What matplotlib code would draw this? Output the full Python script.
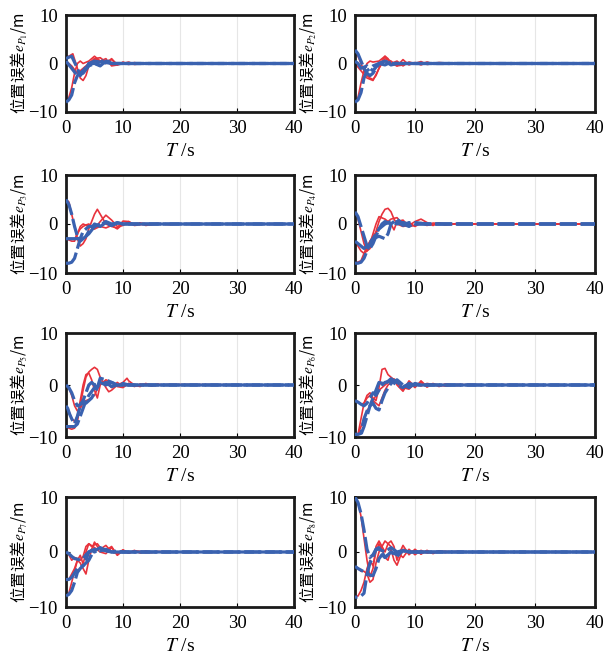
import matplotlib
matplotlib.use("Agg")
import matplotlib.pyplot as plt

plt.rcParams['font.family'] = ['Liberation Serif', 'Noto Sans CJK SC', 'DejaVu Sans']
plt.rcParams['mathtext.fontset'] = 'stix'

# ---------------- data: (t, y) key points ----------------
P1_BLUE = [
    ([0, 0.5, 1, 1.5, 2, 2.5, 3, 3.5, 4, 5, 6, 7, 8, 10, 40],
     [-8, -7.5, -6.5, -4, -2.5, -2, -1.5, -1, 0, 0, -0.3, 0.2, 0, 0, 0]),
    ([0, 0.5, 1, 2, 2.5, 3, 4, 5, 6, 7, 8, 40],
     [1, 1.3, 1.5, -1, -2.5, -1.5, 0, 0.5, 0.3, 0.8, 0, 0]),
    ([0, 1, 2, 3, 4, 5, 6, 7, 8, 40],
     [0.5, -1, -2.5, -2, -0.5, 0, -0.5, 0.5, 0, 0]),
]
P1_RED = [
    ([0, 0.5, 1, 1.5, 2, 2.5, 3, 4, 5, 6, 7, 8, 9, 10, 11, 12, 14, 16, 40],
     [-8, -7, -5, -2, 0, 0.5, 0, 0.5, 1.5, 0.5, 0, 1, -0.3, 0, 0.3, -0.2, 0.1, 0, 0]),
    ([0, 0.5, 1.2, 2, 2.5, 3, 3.5, 4, 5, 6, 7, 8, 9, 10, 11, 12, 13, 15, 40],
     [1, 1.5, 2, -1, -3, -3.5, -2.5, -0.5, 1, 0.5, 1, -0.5, -0.3, 0.3, -0.2, 0.2, -0.1, 0, 0]),
    ([0, 1, 2, 3, 4, 5, 6, 7, 8, 9, 10, 12, 14, 40],
     [0.5, -0.5, -2, -1, 0, 1, 1.2, 0.3, 0.8, -0.2, 0.2, -0.1, 0, 0]),
]

P2_BLUE = [
    ([0, 0.5, 1, 1.5, 2, 2.5, 3, 3.5, 4, 5, 6, 7, 8, 40],
     [2.8, 2, 0.5, -1, -2, -2.5, -2, -1, 0, -0.3, 0.3, 0, 0, 0]),
    ([0, 0.5, 1, 2, 3, 4, 5, 6, 7, 40],
     [0.5, 0, -1, -0.5, -1.5, 0, 0.5, -0.3, 0, 0]),
    ([0, 0.5, 1, 1.5, 2, 3, 4, 5, 6, 8, 40],
     [-8, -7.5, -6, -3, -1.5, -0.5, 0, 0.5, 0, 0, 0]),
]
P2_RED = [
    ([0, 0.5, 1, 1.5, 2, 2.5, 3, 4, 5, 6, 7, 8, 9, 10, 11, 12, 14, 16, 18, 40],
     [-8, -7, -4, -1.5, 0, 0.5, 0.3, 0.5, 1.5, 0, 0.5, -0.5, 0.3, 0, 0.4, -0.2, 0.2, 0, 0.1, 0]),
    ([0, 0.5, 1, 1.5, 2, 2.5, 3, 3.5, 4, 4.5, 5, 5.5, 6, 7, 8, 9, 10, 11, 12, 13, 15, 17, 40],
     [2.5, 1.5, 0, -1.5, -2.5, -3, -3.3, -2.5, -1, 0.5, 1.5, 1, 0, -0.5, 0.8, -0.3, 0.2, -0.3, 0.3, -0.1, 0.1, 0, 0]),
    ([0, 1, 2, 3, 4, 5, 6, 7, 8, 9, 10, 12, 14, 40],
     [0, -1.5, -3, -3.5, -1, 1, 0.5, -0.5, -0.3, 0.2, 0, 0.2, 0, 0]),
]

P3_BLUE = [
    ([0, 0.5, 1, 1.5, 2, 2.5, 3, 3.5, 4, 5, 6, 7, 8, 9, 10, 40],
     [5, 4, 2, -0.5, -2.5, -3.5, -3, -2.5, -1.5, 0, -0.5, 0.3, -0.3, 0.3, 0, 0]),
    ([0, 1, 2, 3, 3.5, 4, 5, 6, 7, 8, 9, 10, 40],
     [-3, -3, -3, -2.8, -2.5, -2, -0.5, 0, 0.3, -0.3, 0.2, 0, 0]),
    ([0, 0.5, 1, 1.5, 2, 2.5, 3, 4, 5, 6, 7, 8, 9, 10, 11, 40],
     [-8, -8, -7.8, -7, -5, -3, -1.5, -0.5, -0.5, 0, 0.5, 0, 0.2, 0, 0, 0]),
]
P3_RED = [
    ([0, 0.5, 1, 1.5, 2, 2.5, 3, 3.5, 4, 5, 5.5, 6, 7, 8, 9, 10, 11, 12, 13, 14, 16, 18, 20, 40],
     [5, 4.5, 2, -0.5, -3, -4.5, -4, -3, -1, 2, 3, 2, 0, -0.5, -0.8, 0.6, 0.5, -0.2, 0.2, -0.3, 0.1, -0.1, 0, 0]),
    ([0, 0.5, 1, 1.5, 2, 2.5, 3, 3.5, 4, 5, 6, 7, 8, 9, 10, 11, 12, 13, 15, 17, 40],
     [-3, -3, -3, -3.2, -2, -1, -0.5, -0.2, 0, -1, 0.5, 1.8, 0.8, -0.5, -0.3, 0.5, -0.2, 0.2, -0.1, 0, 0]),
    ([0, 1, 1.5, 2, 2.5, 3, 4, 5, 6, 7, 8, 9, 10, 11, 12, 14, 40],
     [-3, -3.5, -3.5, -2, -0.5, 0, -0.5, -1, -0.5, -0.8, -0.3, -1, 0, 0.3, -0.3, 0, 0]),
]

P4_BLUE = [
    ([0, 0.5, 1, 1.5, 2, 2.5, 3, 3.5, 4, 4.5, 5, 6, 7, 8, 9, 10, 40],
     [2.5, 1.5, -0.5, -2.5, -4.5, -5, -4, -2.5, -1, 0, 0.5, 0, 0.5, -0.3, 0.3, 0, 0]),
    ([0, 0.5, 1, 1.5, 2, 3, 4, 5, 5.5, 6, 7, 8, 9, 10, 12, 40],
     [-3.5, -4, -4.5, -5, -4.5, -3, -2.5, -3, -2, 0, 1, 0, -0.5, 0.3, 0, 0]),
    ([0, 0.5, 1, 1.5, 2, 2.5, 3, 3.5, 4, 5, 6, 7, 8, 9, 10, 40],
     [-8, -8, -7.8, -7, -5.5, -4, -3, -2, -1, 0, 0.5, 0, 0.3, 0, 0, 0]),
]
P4_RED = [
    ([0, 0.5, 1, 1.5, 2, 2.5, 3, 3.5, 4, 4.5, 5, 5.5, 6, 6.5, 7, 8, 9, 10, 11, 12, 13, 14, 15, 17, 19, 40],
     [2.5, 1, -1.5, -4, -5.5, -5, -3.5, -1.5, 0.5, 2, 3, 3.2, 2.5, 1, 0, -0.5, -0.3, 0.5, 1, 0.3, -0.3, 0.2, -0.2, 0.1, 0, 0]),
    ([0, 0.5, 1, 1.5, 2, 2.5, 3, 3.5, 4, 5, 6, 6.5, 7, 8, 9, 10, 11, 12, 14, 16, 40],
     [-3.5, -4.5, -5.5, -6, -5.5, -4, -2, 0, 1.5, 1, 0, -1.2, 0.5, 0.8, -0.5, -0.3, 0.3, -0.2, 0.1, 0, 0]),
    ([0, 1, 1.5, 2, 3, 4, 5, 6, 7, 8, 9, 10, 11, 12, 13, 15, 40],
     [-8, -7.5, -6, -4.5, -2.5, -1, 0, 1, 1.3, -0.3, 0.3, -0.5, 0.2, -0.3, 0.2, 0, 0]),
]

P5_BLUE = [
    ([0, 0.5, 1, 1.5, 2, 2.5, 3, 3.5, 4, 4.5, 5, 6, 7, 8, 9, 10, 40],
     [0, -0.5, -1.5, -3, -4, -3.8, -3, -1.5, 0, 0.5, 0, 0.5, 0, 0.5, 0, 0, 0]),
    ([0, 0.3, 0.6, 1, 1.5, 2, 2.5, 3, 3.5, 4, 4.5, 5, 5.5, 6, 7, 8, 9, 10, 40],
     [-4, -4.5, -5.5, -6.5, -7.5, -6, -4, -3.5, -3.5, -3, -2.5, -1.5, -0.5, 1.3, 1, 0.5, 0, 0, 0]),
    ([0, 0.5, 1, 1.5, 2, 2.5, 3, 3.5, 4, 5, 6, 7, 8, 9, 10, 11, 40],
     [-8, -8, -8, -8, -7.5, -6, -4.5, -3, -2, -0.5, 0, 0.5, -0.3, 0, 0.3, 0, 0]),
]
P5_RED = [
    ([0, 0.5, 1, 1.5, 2, 2.5, 3, 3.5, 4, 4.5, 5, 5.5, 6, 7, 7.5, 8, 9, 10, 10.7, 11, 12, 13, 14, 15, 16, 17, 18, 40],
     [-8, -8.3, -8.5, -8.3, -7, -4, -1, 1.5, 2.5, 3, 3.4, 3, 1.5, -0.5, -1.3, -1, 0, 0.5, 1.3, 0.8, 0, -0.3, 0.3, -0.2, 0.2, 0, 0.1, 0]),
    ([0, 0.5, 1, 1.5, 2, 2.5, 3, 3.5, 4, 4.5, 5, 5.5, 6, 7, 8, 9, 10, 11, 12, 13, 15, 17, 40],
     [-4, -5, -6.5, -7, -6, -3, 0, 2, 2.3, 1, -1, -2.5, 0, 1, 0.5, -0.3, -0.5, 0.3, -0.3, 0.2, -0.1, 0, 0]),
    ([0, 0.5, 1, 1.5, 2, 2.5, 3, 3.5, 4, 5, 6, 7, 8, 9, 10, 11, 12, 14, 16, 40],
     [0, -0.5, -2, -4, -5, -4.5, -3.5, -3, -2.8, -2, 0.5, 0.5, -0.5, 0.5, -0.3, 0.3, -0.2, 0.1, 0, 0]),
]

P6_BLUE = [
    ([0, 0.5, 1, 1.5, 2, 2.5, 3, 3.5, 4, 4.5, 5, 6, 7, 8, 9, 10, 40],
     [-3, -3.3, -3.7, -4, -3.5, -2.5, -1.5, -2, -1, 0, 0.5, 0.8, 0, -0.5, 0.3, 0, 0]),
    ([0, 0.5, 1, 1.5, 2, 2.5, 3, 3.5, 4, 4.5, 5, 6, 7, 8, 9, 10, 11, 40],
     [-9.5, -9.5, -9.3, -6.5, -5, -4, -3.5, -4.5, -4.8, -3, -1.5, 0.3, 1, 0, -0.5, 0.3, 0, 0]),
    ([0, 0.5, 1, 1.5, 2, 2.5, 3, 3.5, 4, 5, 6, 7, 8, 9, 10, 40],
     [-9.5, -9.5, -9.5, -8, -6, -4, -2.5, -1, 0.5, 0.2, 1.2, 0.5, -0.3, 0, 0, 0]),
]
P6_RED = [
    ([0, 0.5, 1, 1.5, 2, 2.5, 3, 3.5, 4, 4.5, 5, 5.5, 6, 7, 8, 9, 10, 11, 12, 13, 14, 15, 17, 19, 22, 25, 40],
     [-10, -9.5, -6.5, -3.5, -2, -1.5, -2.5, -3, -0.5, 3, 3.2, 2, 1.5, 0.5, -1, 0.5, -0.5, 0.8, -0.3, 0.3, -0.3, 0.2, -0.1, 0.1, 0, 0.05, 0]),
    ([0, 0.5, 1, 1.5, 2, 2.5, 3, 3.5, 4, 4.5, 5, 5.5, 6, 6.5, 7, 8, 9, 10, 11, 12, 13, 15, 17, 20, 40],
     [-9.5, -9.5, -8, -6.5, -5, -4, -3, -3.5, -4, -2.5, -1, 0, 0.5, 1.2, 0, -1.2, 0.8, -0.3, 0.5, -0.4, 0.2, -0.2, 0.1, 0, 0]),
    ([0, 0.5, 1, 1.5, 2, 2.5, 3, 3.5, 4, 5, 6, 7, 8, 9, 10, 11, 12, 14, 16, 40],
     [-3, -3.2, -3.7, -3.5, -2.5, -2, -3, -2, -1, 0, 1, 0.5, -0.5, -0.8, 0.3, -0.2, 0.3, -0.1, 0, 0]),
]

P7_BLUE = [
    ([0, 0.5, 1, 1.5, 2, 2.5, 3, 3.5, 4, 4.5, 5, 6, 7, 8, 9, 10, 40],
     [0, -0.3, -0.8, -1.2, -1.3, -1.5, -1.2, -0.5, 0, 0.3, 0, 0.5, 0.2, 0, 0.2, 0, 0]),
    ([0, 0.5, 1, 1.5, 2, 2.5, 3, 3.5, 4, 4.5, 5, 6, 7, 8, 9, 40],
     [-5, -5, -4.6, -3.8, -3, -2.7, -2.5, -2, -1.5, -0.5, 0.2, 0.8, 0.3, 0, 0, 0]),
    ([0, 0.5, 1, 1.5, 2, 2.5, 3, 3.5, 4, 5, 6, 7, 8, 40],
     [-8, -7.7, -7, -5.5, -3.7, -3, -2.5, -1.5, 0, 0.5, 0.2, 0.5, 0, 0]),
]
P7_RED = [
    ([0, 0.5, 1, 1.5, 2, 2.5, 3, 3.5, 4, 4.5, 5, 5.5, 6, 7, 8, 9, 10, 11, 12, 13, 14, 15, 16, 18, 40],
     [-8, -7.5, -5.5, -3.5, -1.5, -0.6, -2.2, 0, 1.5, 1, 1.3, 1.5, 0.8, 0.3, 1, -0.6, 0.3, -0.2, 0.3, -0.2, 0.2, -0.1, 0.1, 0, 0]),
    ([0, 0.5, 1, 1.5, 2, 2.5, 3, 3.5, 4, 4.5, 5, 5.5, 6, 7, 8, 9, 10, 11, 12, 14, 16, 40],
     [-5, -5, -4, -3, -1.5, -2, -3, -4, -1.5, 0.5, 1.8, 1, 0.5, 1.2, 0, -0.3, 0.4, -0.2, 0.2, -0.1, 0, 0]),
    ([0, 0.5, 1, 1.5, 2, 2.5, 3, 3.5, 4, 5, 6, 7, 8, 9, 10, 11, 12, 14, 40],
     [0, -0.5, -1.5, -1, -1.2, -1.5, -0.8, 1, 1.5, 0.8, 0, -0.3, 0.8, -0.5, 0.3, -0.2, 0.2, 0, 0]),
]

P8_BLUE = [
    ([0, 0.5, 1, 1.5, 2, 2.5, 3, 3.5, 4, 5, 6, 7, 8, 9, 10, 40],
     [10, 9, 7, 4, 0.5, -1, -0.5, 0.5, 0.8, -1, 0, -0.8, 0.3, 0, 0, 0]),
    ([0, 0.5, 1, 1.5, 2, 2.5, 3, 3.5, 4, 4.5, 5, 6, 7, 8, 9, 10, 40],
     [-2.6, -3, -3.3, -3.6, -3.8, -4.2, -4.3, -3, -1.2, -0.5, -1, 0, -0.5, 0.2, 0, 0, 0]),
    ([0, 0.5, 1, 1.5, 2, 2.5, 3, 3.5, 4, 5, 6, 7, 8, 9, 40],
     [-8.2, -8.2, -8, -7.5, -4, -2, -0.9, 0.5, 0.5, 0, 0.8, 0, 0.3, 0, 0]),
]
P8_RED = [
    ([0, 0.5, 1, 1.5, 2, 2.5, 3, 3.5, 4, 4.5, 5, 5.5, 6, 6.5, 7, 7.5, 8, 9, 10, 11, 12, 13, 14, 15, 17, 19, 40],
     [10, 9, 6.5, 2.5, -1.5, -4.5, -3, 1, 2, 1, 0, 1.5, 2, 1, -1.5, 0, 1.2, -0.5, 0.5, -0.4, 0.3, -0.3, 0.2, -0.1, 0.1, 0, 0]),
    ([0, 0.5, 1, 1.5, 2, 2.5, 3, 3.5, 4, 4.5, 5, 5.5, 6, 6.5, 7, 8, 9, 10, 11, 12, 13, 15, 17, 40],
     [-8, -8, -7, -5.5, -3, -1.5, -2.5, 0, 1.5, 0.5, -1, -1.5, 0.5, -1.5, -2.4, 0.5, -0.2, 0.3, -0.3, 0.2, -0.1, 0.1, 0, 0]),
    ([0, 0.5, 1, 1.5, 2, 2.5, 3, 3.5, 4, 5, 6, 7, 8, 9, 10, 11, 12, 14, 16, 40],
     [-2.5, -3, -3.5, -3.5, -4, -5.5, -5, -2, 0, 2, 1, 0, -1, 0.5, -0.5, 0.3, -0.2, 0.1, 0, 0]),
]

SUBPLOTS = [(P1_RED, P1_BLUE), (P2_RED, P2_BLUE), (P3_RED, P3_BLUE), (P4_RED, P4_BLUE),
            (P5_RED, P5_BLUE), (P6_RED, P6_BLUE), (P7_RED, P7_BLUE), (P8_RED, P8_BLUE)]
X_TICKS = [0, 10, 20, 30, 40]
Y_TICKS = [-10, 0, 10]
Y_TICKLABELS = ['\u221210', '0', '10']

RED = '#e8323c'
BLUE = '#3a62b0'

W, H = 614, 654
fig = plt.figure(figsize=(W / 100, H / 100), dpi=100)

cols = [(66, 294), (355, 595)]
rows = [(15, 112), (175, 273), (333, 437), (497, 607)]
# panels whose blue dashes are staggered (tail looks solid blue)
staggered = {5, 7}

for i, (reds, blues) in enumerate(SUBPLOTS):
    r, c = divmod(i, 2)
    x0, x1 = cols[c]
    y0, y1 = rows[r]
    ax = fig.add_axes([x0 / W, 1 - y1 / H, (x1 - x0) / W, (y1 - y0) / H])
    ax.grid(True, axis='x', color='#e6e6e6', lw=0.8)
    ax.set_axisbelow(True)
    for t, y in reds:
        ax.plot(t, y, color=RED, lw=1.2, zorder=2)
    for k, (t, y) in enumerate(blues):
        off = k * 2.2 if i in staggered else 0
        ax.plot(t, y, color=BLUE, lw=2.3, ls=(off, (5.2, 1.3)), zorder=3)
    ax.set_xlim(0, 40)
    ax.set_ylim(-10, 10)
    ax.set_xticks(X_TICKS)
    ax.set_yticks(Y_TICKS)
    ax.set_yticklabels(Y_TICKLABELS)
    ax.tick_params(direction='in', length=3, width=0.8, labelsize=13.5, pad=6)
    for s in ax.spines.values():
        s.set_linewidth(2.0)
        s.set_color('#1a1a1a')
    ax.set_xlabel(r'$T$ /s', fontsize=14, labelpad=4)
    ax.set_ylabel('位置误差$e_{P_{%d}}$/m' % (i + 1), fontsize=11.2, labelpad=-1,
                  family=['Noto Sans CJK SC', 'DejaVu Sans'])

fig.savefig('out.png', dpi=100)
